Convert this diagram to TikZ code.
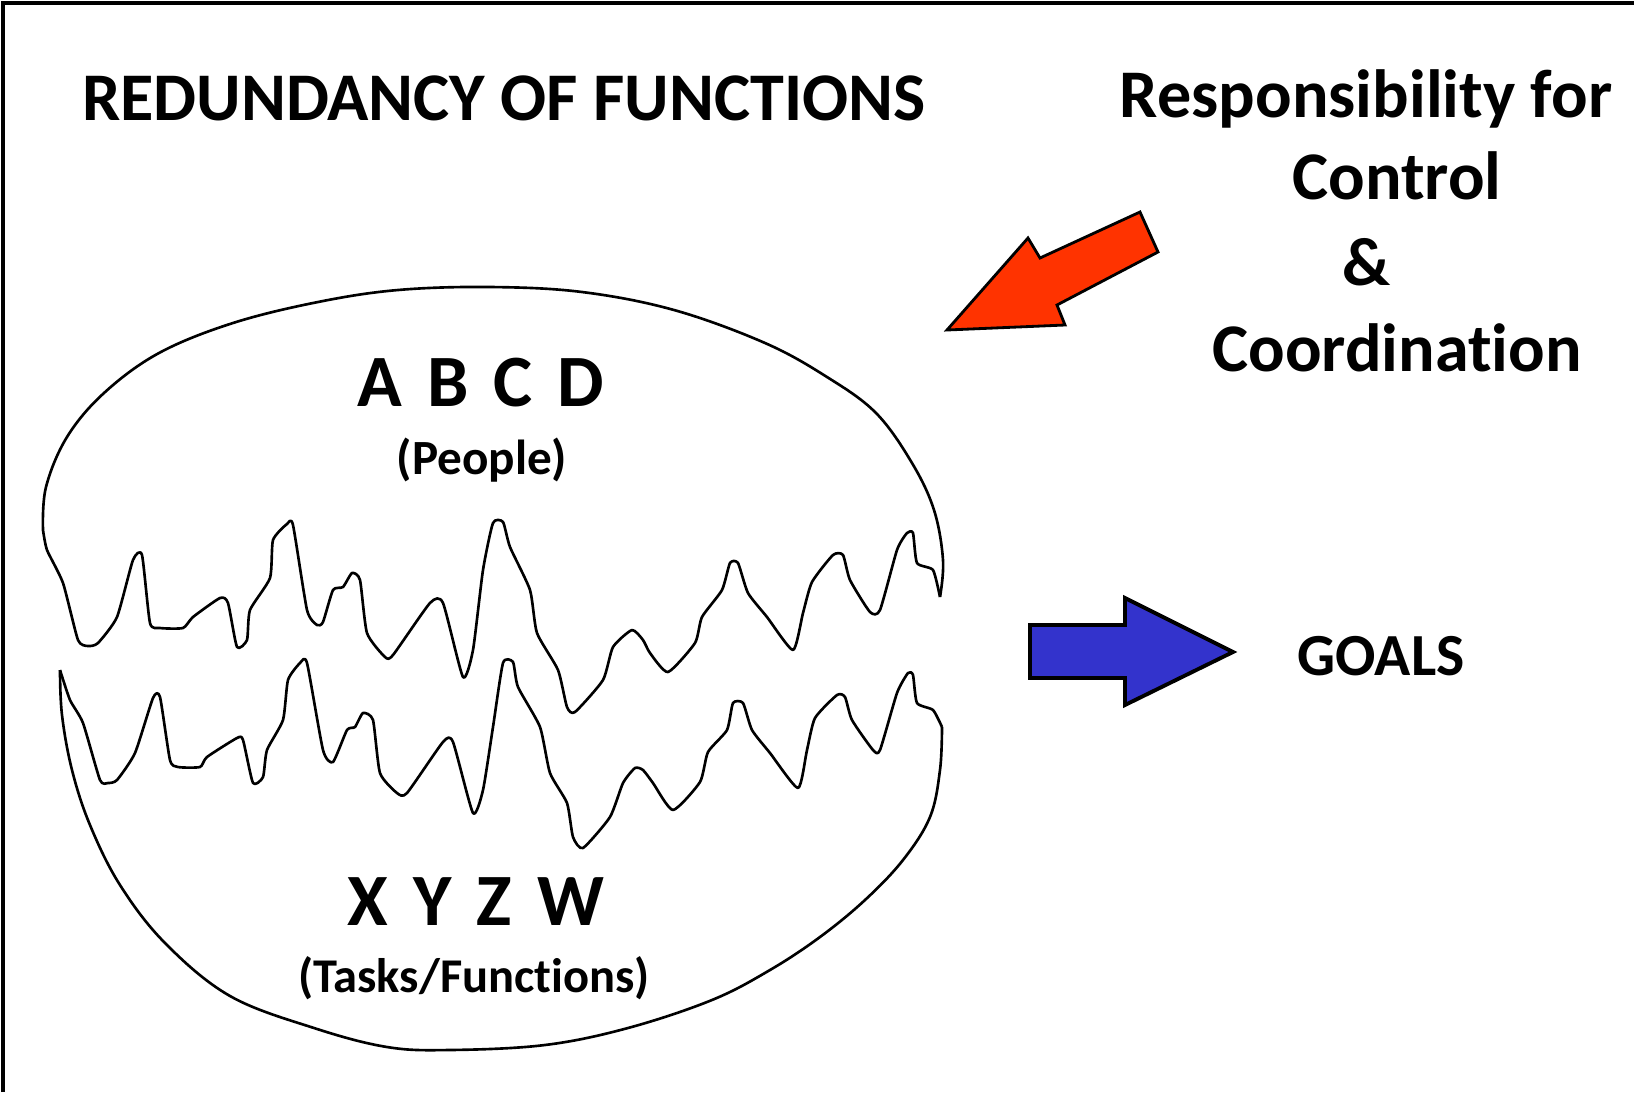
\documentclass[tikz,border=0pt]{standalone}
\usepackage{fontspec}
\setmainfont{Carlito}[Ligatures=NoCommon]
\definecolor{arrowred}{RGB}{255,51,0}
\definecolor{arrowblue}{RGB}{51,51,204}
\newcommand{\lettergap}{\hspace{0.34em}}

\begin{document}
\begin{tikzpicture}[x=0.1mm, y=-0.1mm]
	\tikzset{
		headnode/.style={font=\bfseries\fontsize{19.4}{23}\selectfont, inner sep=0pt, anchor=base},
		letternode/.style={font=\bfseries\fontsize{21}{25}\selectfont, inner sep=0pt, anchor=base},
		smallnode/.style={font=\bfseries\fontsize{14}{17}\selectfont, inner sep=0pt, anchor=base},
		goalnode/.style={font=\bfseries\fontsize{17}{20}\selectfont, inner sep=0pt, anchor=base},
		outline/.style={line width=0.75pt, line join=round},
		bigarrow/.style={draw=black, line width=1.1pt, line join=miter},
	}
	\useasboundingbox (0,0) rectangle (1634,1092);
	\draw[line width=1.2pt] (3,1092) -- (3,3) -- (1634,3);

	\node[headnode] (title) at (504,120) {REDUNDANCY OF FUNCTIONS};
	\node[headnode] (resp) at (1366,117) {Responsibility for};
	\node[headnode] (control) at (1397,199) {Control};
	\node[headnode] (amp) at (1367,285) {\&};
	\node[headnode] (coord) at (1397,371) {Coordination};

	\node[letternode] (people) at (481,406) {A\lettergap B\lettergap C\lettergap D};
	\node[smallnode] (peoplesub) at (482,474) {(People)};
	\node[letternode] (tasks) at (476,925) {X\lettergap Y\lettergap Z\lettergap W};
	\node[smallnode, font=\bfseries\fontsize{13.8}{17}\selectfont] (taskssub) at (474,992) {(Tasks/Functions)};
	\node[goalnode] (goals) at (1381,675) {GOALS};

	% upper half
	\draw[outline] plot[smooth, tension=0.6] coordinates {(43,530) (46,487) (67,437) (104,393) (159,353) (233,323) (318,302) (398,290) (490,287) (582,292) (674,310) (765,343) (827,377) (876,413) (912,463) (934,510) (943,560) (940,597)};
	\draw[outline] plot[smooth, tension=0.35] coordinates {(43,530) (47,550) (63,583) (78,640) (88,646) (98,643) (117,617) (133,560) (142,555) (150,623) (160,628) (183,628) (193,617) (220,598) (228,603) (237,647) (247,640) (250,610) (270,578) (273,540) (287,524) (293,525) (307,610) (317,625) (323,622) (333,590) (343,587) (352,573) (360,580) (367,633) (385,657) (393,655) (430,603) (443,603) (463,677) (473,650) (483,570) (493,523) (503,522) (510,547) (530,590) (537,633) (558,670) (567,707) (575,712) (603,680) (613,647) (632,630) (643,640) (650,653) (668,672) (695,643) (702,617) (722,590) (730,563) (738,563) (748,593) (767,617) (793,650) (803,613) (812,582) (833,555) (843,555) (850,580) (870,612) (880,610) (897,550) (907,533) (913,533) (917,563) (933,570) (940,597)};

	% lower half
	\draw[outline] plot[smooth, tension=0.35] coordinates {(60,670) (70,700) (83,723) (100,780) (108,783) (117,780) (135,753) (153,698) (160,697) (170,760) (178,767) (200,767) (207,757) (237,738) (243,740) (253,783) (263,777) (267,750) (283,720) (288,680) (300,663) (307,663) (323,750) (333,762) (347,730) (355,727) (363,713) (373,720) (380,773) (397,793) (407,793) (443,742) (453,742) (473,813) (483,790) (493,727) (503,663) (513,662) (518,687) (540,727) (550,773) (567,803) (573,837) (583,848) (610,817) (623,783) (635,768) (643,770) (653,783) (673,810) (700,782) (708,752) (727,730) (733,703) (743,703) (752,730) (770,753) (798,788) (807,750) (815,718) (837,695) (845,697) (852,720) (873,750) (880,750) (897,693) (908,673) (913,675) (917,703) (933,710) (942,727)};
	\draw[outline] plot[smooth, tension=0.6] coordinates {(942,727) (940,770) (930,817) (903,860) (865,900) (820,937) (770,970) (712,1000) (628,1028) (545,1045) (450,1050) (387,1047) (314,1028) (230,996) (165,943) (120,885) (90,825) (72,770) (62,715) (60,670)};

	% arrows
	\filldraw[bigarrow, fill=arrowred, line width=0.8pt] (947,330) -- (1028,238) -- (1040,258) -- (1140,212) -- (1158,252) -- (1057,305) -- (1065,325) -- cycle;
	\filldraw[bigarrow, fill=arrowblue] (1030,625) -- (1125,625) -- (1125,598) -- (1233,652) -- (1125,705) -- (1125,678) -- (1030,678) -- cycle;
\end{tikzpicture}
\end{document}
